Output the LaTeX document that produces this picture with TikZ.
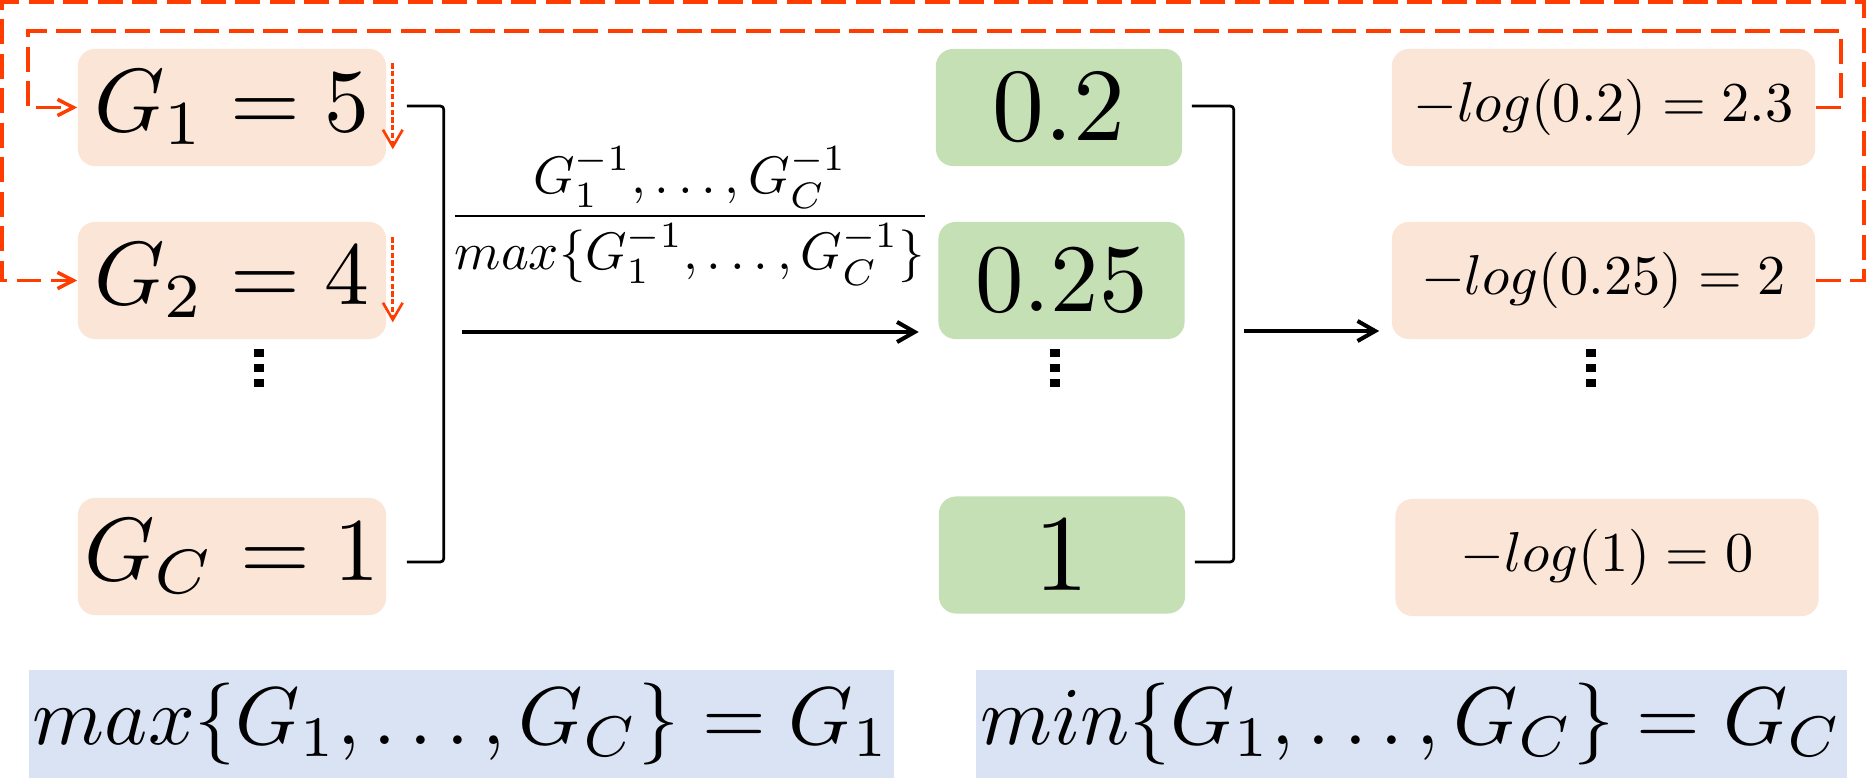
\documentclass[tikz,border=0pt]{standalone}
\usepackage{amsmath,  
            amssymb   % Symbols
            }
\usepackage{graphicx}
\usepackage{tikz}
\usetikzlibrary{arrows.meta}
\usetikzlibrary{calc}

\definecolor{peach}{HTML}{FBE5D6}
\definecolor{leaf}{HTML}{C5E0B4}
\definecolor{sky}{HTML}{DAE3F3}
\definecolor{loopred}{HTML}{FF3D00}

% scaled formula
\newcommand{\bigeq}[2]{\scalebox{#1}{$#2$}}
% three square dots
\newcommand{\sqdots}{\vbox{\hrule height 2.3pt width 2.85pt\vskip 2pt
\hrule height 2.3pt width 2.85pt\vskip 2pt\hrule height 2.3pt width 2.85pt}}

\begin{document}
\begin{tikzpicture}[x=0.01cm,y=-0.01cm,
cell/.style={rounded corners=0.17cm,inner sep=0pt,minimum height=1.17cm},
gbox/.style={cell,fill=peach,minimum width=3.08cm},
pbox/.style={cell,fill=leaf,minimum width=2.46cm},
lbox/.style={cell,fill=peach,minimum width=4.23cm},
sumbox/.style={fill=sky,inner sep=0pt,minimum height=1.08cm},
bracket/.style={line width=0.77pt,rounded corners=1pt},
flow/.style={line width=1.15pt,-{Straight Barb[length=5pt,width=5.7pt]}},
fb/.style={loopred,line width=1pt,dash pattern=on 7.1pt off 2.7pt,
  -{Straight Barb[length=4.5pt,width=4.6pt]}},
tick/.style={loopred,line width=0.75pt,dash pattern=on 1.5pt off 0.7pt,
  -{Straight Barb[length=4.8pt,width=5.6pt]}}]
\useasboundingbox (0,0) rectangle (1867,779);

% left column
\node[gbox] (g1) at (232,107.5) {\bigeq{2.55}{G_1 = 5}};
\node[gbox] (g2) at (232,280.5) {\bigeq{2.55}{G_2 = 4}};
\node[gbox] (gc) at (232,556.5) {\bigeq{2.55}{G_C = 1}};
\node (gdots) at (259,368) {\sqdots};

% middle column
\node[pbox] (p1) at (1059,107.5) {\bigeq{2.95}{0.2}};
\node[pbox] (p2) at (1061.5,280.5) {\bigeq{2.75}{0.25}};
\node[pbox] (pc) at (1062,555) {\bigeq{3.1}{1}};
\node (pdots) at (1054.5,368) {\sqdots};

% right column
\node[lbox] (r1) at (1603.5,107.5) {\bigeq{1.6}{-log(0.2) = 2.3}};
\node[lbox] (r2) at (1603.5,280.5) {\bigeq{1.6}{-log(0.25) = 2}};
\node[lbox] (rc) at (1607,557.5) {\bigeq{1.6}{-log(1) = 0}};
\node (rdots) at (1591,368) {\sqdots};

\node (ratio) at (690,216)
{\bigeq{1.5}{\dfrac{G_1^{-1},\ldots,G_C^{-1}}{max\{G_1^{-1},\ldots,G_C^{-1}\}}}};

\node[sumbox,minimum width=8.65cm] (maxsum) at (461.5,724) {\bigeq{2.33}{max\{G_1,\ldots,G_C\} = G_1}};
\node[sumbox,minimum width=8.71cm] (minsum) at (1411.5,724) {\bigeq{2.33}{min\{G_1,\ldots,G_C\} = G_C}};

\draw[bracket]
($(g1.east)+(20,-1.5)$) -| ($(gc.east)+(57,5.5)$) -- ($(gc.east)+(20,5.5)$);
\draw[bracket]
($(p1.east)+(9,-1.5)$) -| ($(pc.east)+(48,7)$) -- ($(pc.east)+(9,7)$);

\draw[flow] ($(g2.east)+(75,51.5)$) -- ($(p2.west)+(-19,51.5)$);
\draw[flow] ($(p2.east)+(59,50.5)$) -- ($(r2.west)+(-12,50.5)$);

% feedback loops
\coordinate (innercorner) at (28,31);
\coordinate (outercorner) at (2,2);
\draw[fb] (r1.east) -- ++(25,0) |- (innercorner) |- (g1.west);
\draw[fb] (r2.east) -- ++(48,0) |- (outercorner) |- (g2.west);

\draw[tick] ($(g1.north east)+(6,15)$) -- ($(g1.north east)+(6,101)$);
\draw[tick] ($(g2.north east)+(6,16)$) -- ($(g2.north east)+(6,101)$);
\end{tikzpicture}
\end{document}
